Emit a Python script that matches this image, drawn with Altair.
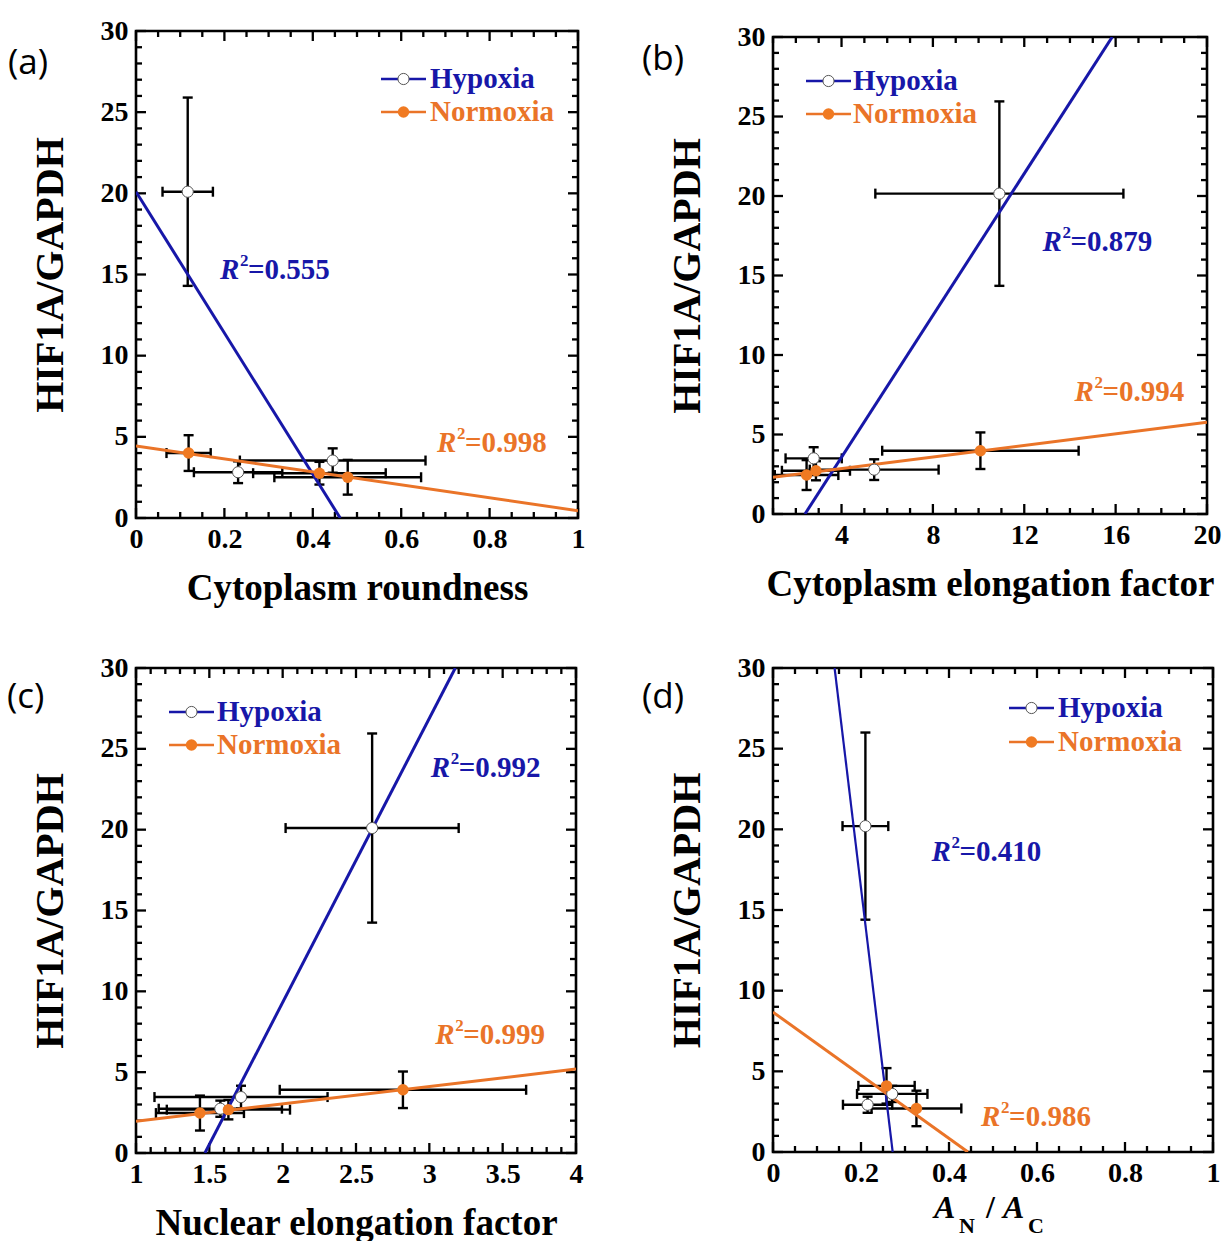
import altair as alt
import pandas as pd

BLUE = "#1717a8"
ORANGE = "#ea7428"
SERIF = "Liberation Serif"
SANS = "Open Sans"

Y_TICKS = [0, 5, 10, 15, 20, 25, 30]
Y_TITLE = "HIF1A/GAPDH"

# ---------------- panel (a): Cytoplasm roundness ----------------
a_hyp_x = [0.117, 0.231, 0.445]
a_hyp_xerr = [0.057, 0.10, 0.21]
a_hyp_y = [20.1, 2.82, 3.54]
a_hyp_yerr = [5.8, 0.67, 0.75]
a_nor_x = [0.119, 0.415, 0.479]
a_nor_xerr = [0.05, 0.15, 0.166]
a_nor_y = [4.0, 2.76, 2.51]
a_nor_yerr = [1.1, 0.7, 1.07]
a_fit_hyp = ([0.0, 0.462], [20.1, 0.0])
a_fit_nor = ([0.0, 1.0], [4.44, 0.45])
a_r2 = [("0.555", 0.19, 15.3, "hyp"), ("0.998", 0.681, 4.6, "nor")]
a_xticks = [0, 0.2, 0.4, 0.6, 0.8, 1]

# ---------------- panel (b): Cytoplasm elongation factor ----------------
b_hyp_x = [10.91, 2.78, 5.43]
b_hyp_xerr = [5.43, 1.23, 2.82]
b_hyp_y = [20.15, 3.5, 2.79]
b_hyp_yerr = [5.8, 0.7, 0.65]
b_nor_x = [10.08, 2.47, 2.88]
b_nor_xerr = [4.3, 1.39, 1.49]
b_nor_y = [3.98, 2.45, 2.72]
b_nor_yerr = [1.15, 0.94, 0.6]
b_fit_hyp = ([2.40, 15.85], [0.0, 30.0])
b_fit_nor = ([1.0, 20.0], [2.31, 5.77])
b_r2 = [("0.879", 12.8, 17.1, "hyp"), ("0.994", 14.2, 7.67, "nor")]
b_xticks = [4, 8, 12, 16, 20]

# ---------------- panel (c): Nuclear elongation factor ----------------
c_hyp_x = [2.61, 1.716, 1.575]
c_hyp_xerr = [0.59, 0.59, 0.42]
c_hyp_y = [20.1, 3.46, 2.74]
c_hyp_yerr = [5.85, 0.7, 0.5]
c_nor_x = [2.82, 1.436, 1.63]
c_nor_xerr = [0.84, 0.3, 0.42]
c_nor_y = [3.91, 2.47, 2.68]
c_nor_yerr = [1.13, 1.08, 0.6]
c_fit_hyp = ([1.47, 3.177], [0.0, 30.0])
c_fit_nor = ([1.0, 4.0], [1.96, 5.19])
c_r2 = [("0.992", 3.01, 23.8, "hyp"), ("0.999", 3.04, 7.3, "nor")]
c_xticks = [1, 1.5, 2, 2.5, 3, 3.5, 4]

# ---------------- panel (d): A_N / A_C ----------------
d_hyp_x = [0.21, 0.271, 0.215]
d_hyp_xerr = [0.052, 0.08, 0.056]
d_hyp_y = [20.2, 3.6, 2.93]
d_hyp_yerr = [5.8, 0.5, 0.5]
d_nor_x = [0.258, 0.326]
d_nor_xerr = [0.064, 0.102]
d_nor_y = [4.1, 2.7]
d_nor_yerr = [1.1, 1.1]
d_fit_hyp = ([0.14, 0.272], [30.0, 0.0])
d_fit_nor = ([0.0, 0.443], [8.67, 0.0])
d_r2 = [("0.410", 0.36, 18.6, "hyp"), ("0.986", 0.473, 2.2, "nor")]
d_xticks = [0, 0.2, 0.4, 0.6, 0.8, 1]

LEG_NAMES = {"hyp": "Hypoxia", "nor": "Normoxia"}
COLORS = {"hyp": BLUE, "nor": ORANGE}


def minors(lo, hi, step, majors):
    out = []
    n = int(round((hi - lo) / step))
    for i in range(n + 1):
        v = round(lo + i * step, 6)
        if all(abs(v - m) > 1e-9 for m in majors):
            out.append(v)
    return out


def err_df(x, xe, y, ye):
    return pd.DataFrame({
        "x": x, "y": y,
        "xlo": [a - b for a, b in zip(x, xe)], "xhi": [a + b for a, b in zip(x, xe)],
        "ylo": [a - b for a, b in zip(y, ye)], "yhi": [a + b for a, b in zip(y, ye)],
    })


def panel(P):
    W, H = P["w"], P["h"]
    xs = alt.Scale(domain=P["xdom"], nice=False, zero=False)
    ys = alt.Scale(domain=[0, 30], nice=False, zero=False)
    xaxis = alt.Axis(values=P["xmaj"], ticks=False, tickSize=0, domain=False, grid=False,
                     labelFlush=False, labelPadding=7, labelFont=SERIF, labelFontSize=28,
                     labelFontWeight="bold", labelColor="black", format="~g",
                     titleFont=SERIF, titleFontSize=37, titleFontWeight="bold",
                     titleColor="black", titlePadding=17, title=P["xtitle"])
    yaxis = alt.Axis(values=Y_TICKS, ticks=False, tickSize=0, domain=False, grid=False,
                     labelFlush=False, labelPadding=8, labelFont=SERIF, labelFontSize=28,
                     labelFontWeight="bold", labelColor="black", format="~g",
                     title=Y_TITLE, titleFont=SERIF, titleFontSize=40,
                     titleFontWeight="bold", titleColor="black", titlePadding=30)

    X = lambda f: alt.X(f"{f}:Q", scale=xs, axis=xaxis)
    Y = lambda f: alt.Y(f"{f}:Q", scale=ys, axis=yaxis)

    layers = []
    # inward ticks on four sides
    xmaj = pd.DataFrame({"v": P["xmaj"]})
    xmin = pd.DataFrame({"v": P["xmin"]})
    ymaj = pd.DataFrame({"v": Y_TICKS})
    ymin = pd.DataFrame({"v": minors(0, 30, 1, Y_TICKS)})
    for df, L in ((xmaj, 10), (xmin, 6)):
        layers.append(alt.Chart(df).mark_rule(color="black", strokeWidth=2.3).encode(
            x=X("v"), y=alt.value(H), y2=alt.value(H - L)))
        layers.append(alt.Chart(df).mark_rule(color="black", strokeWidth=2.3).encode(
            x=X("v"), y=alt.value(0), y2=alt.value(L)))
    for df, L in ((ymaj, 10), (ymin, 6)):
        layers.append(alt.Chart(df).mark_rule(color="black", strokeWidth=2.3).encode(
            y=Y("v"), x=alt.value(0), x2=alt.value(L)))
        layers.append(alt.Chart(df).mark_rule(color="black", strokeWidth=2.3).encode(
            y=Y("v"), x=alt.value(W), x2=alt.value(W - L)))

    # error bars
    for key in ("hyp", "nor"):
        d = err_df(*P[key])
        layers.append(alt.Chart(d).mark_rule(color="black", strokeWidth=2.4).encode(
            x=X("xlo"), x2="xhi", y=Y("y")))
        layers.append(alt.Chart(d).mark_rule(color="black", strokeWidth=2.4).encode(
            x=X("x"), y=Y("ylo"), y2="yhi"))
        caps_v = pd.DataFrame({"cx": list(d["xlo"]) + list(d["xhi"]), "cy": list(d["y"]) * 2})
        caps_h = pd.DataFrame({"cx": list(d["x"]) * 2, "cy": list(d["ylo"]) + list(d["yhi"])})
        layers.append(alt.Chart(caps_v).mark_tick(orient="vertical", size=10, thickness=2.4,
                                                  color="black", opacity=1).encode(
            x=X("cx"), y=Y("cy")))
        layers.append(alt.Chart(caps_h).mark_tick(orient="horizontal", size=10, thickness=2.4,
                                                  color="black", opacity=1).encode(
            x=X("cx"), y=Y("cy")))

    # fit lines
    for key, sw in (("hyp", P.get("hyp_sw", 3.0)), ("nor", 3.0)):
        fx, fy = P["fit_" + key]
        d = pd.DataFrame({"x": fx, "y": fy})
        layers.append(alt.Chart(d).mark_line(color=COLORS[key], strokeWidth=sw, clip=True).encode(
            x=X("x"), y=Y("y")))

    # data points
    hd = err_df(*P["hyp"])
    nd = err_df(*P["nor"])
    layers.append(alt.Chart(hd).mark_circle(size=125, color="white", stroke="#555555",
                                            strokeWidth=1, opacity=1).encode(x=X("x"), y=Y("y")))
    layers.append(alt.Chart(nd).mark_circle(size=130, color="#f07a22", opacity=1).encode(
        x=X("x"), y=Y("y")))

    # R^2 annotations
    for val, rx, ry, key in P["r2"]:
        d = pd.DataFrame({"x": [rx], "y": [ry]})
        col = COLORS[key]
        layers.append(alt.Chart(d).mark_text(text="R", font=SERIF, fontSize=29, fontWeight="bold",
                                             fontStyle="italic", color=col, align="left",
                                             baseline="middle").encode(x=X("x"), y=Y("y")))
        layers.append(alt.Chart(d).mark_text(text="2", font=SERIF, fontSize=17, fontWeight="bold",
                                             color=col, align="left", baseline="middle",
                                             dx=20, dy=-9).encode(x=X("x"), y=Y("y")))
        layers.append(alt.Chart(d).mark_text(text="=" + val, font=SERIF, fontSize=29,
                                             fontWeight="bold", color=col, align="left",
                                             baseline="middle", dx=28).encode(x=X("x"), y=Y("y")))

    # legend (layout element, pixel positions inside the panel)
    one = pd.DataFrame({"k": [0]})
    lx0, lx1, lt = P["leg_x"]
    for key, ly in zip(("hyp", "nor"), P["leg_y"]):
        col = COLORS[key]
        layers.append(alt.Chart(one).mark_rule(color=col, strokeWidth=2.6).encode(
            x=alt.value(lx0), x2=alt.value(lx1), y=alt.value(ly)))
        if key == "hyp":
            layers.append(alt.Chart(one).mark_circle(size=125, color="white", stroke="#555555",
                                                     strokeWidth=1, opacity=1).encode(
                x=alt.value((lx0 + lx1) / 2), y=alt.value(ly)))
        else:
            layers.append(alt.Chart(one).mark_circle(size=130, color="#f07a22", opacity=1).encode(
                x=alt.value((lx0 + lx1) / 2), y=alt.value(ly)))
        layers.append(alt.Chart(one).mark_text(text=LEG_NAMES[key], font=SERIF, fontSize=29,
                                               fontWeight="bold", color=col, align="left",
                                               baseline="middle").encode(
            x=alt.value(lt), y=alt.value(ly)))

    # panel letter
    lab_x, lab_y = P["lab_pos"]
    layers.append(alt.Chart(one).mark_text(text=P["label"], font=SANS, fontSize=35,
                                           color="black", align="left",
                                           baseline="middle").encode(
        x=alt.value(lab_x), y=alt.value(lab_y)))

    # extra top room (invisible) so that the frame sits lower in its column
    if P.get("top_room"):
        layers.append(alt.Chart(one).mark_text(text=".", fontSize=8, opacity=0,
                                               baseline="top", align="left").encode(
            x=alt.value(20), y=alt.value(-P["top_room"])))

    # special x title made of pieces (A_N / A_C)
    for txt, px, py, fs, st in P.get("title_parts", []):
        layers.append(alt.Chart(one).mark_text(text=txt, font=SERIF, fontSize=fs,
                                               fontWeight="bold", fontStyle=st, color="black",
                                               align="left", baseline="alphabetic").encode(
            x=alt.value(px), y=alt.value(H + py)))

    return alt.layer(*layers).properties(width=W, height=H)


def spacer():
    one = pd.DataFrame({"k": [0]})
    return alt.Chart(one).mark_point(opacity=0).encode(
        x=alt.value(0), y=alt.value(0)).properties(
        width=1, height=1, view=alt.ViewBackground(strokeOpacity=0))


PA = dict(w=442, h=487, xdom=[0, 1], xmaj=a_xticks, xmin=minors(0, 1, 0.05, a_xticks),
          xtitle="Cytoplasm roundness",
          hyp=(a_hyp_x, a_hyp_xerr, a_hyp_y, a_hyp_yerr),
          nor=(a_nor_x, a_nor_xerr, a_nor_y, a_nor_yerr),
          fit_hyp=a_fit_hyp, fit_nor=a_fit_nor, r2=a_r2,
          leg_x=(245, 290, 294), leg_y=(48, 81), label="(a)", lab_pos=(-128, 32))
PB = dict(w=434, h=477, xdom=[1, 20], xmaj=b_xticks, xmin=minors(1, 20, 1, b_xticks),
          xtitle="Cytoplasm elongation factor",
          hyp=(b_hyp_x, b_hyp_xerr, b_hyp_y, b_hyp_yerr),
          nor=(b_nor_x, b_nor_xerr, b_nor_y, b_nor_yerr),
          fit_hyp=b_fit_hyp, fit_nor=b_fit_nor, r2=b_r2,
          leg_x=(33, 78, 80), leg_y=(44, 77), label="(b)", lab_pos=(-131, 22),
          top_room=20)
PC = dict(w=440, h=485, xdom=[1, 4], xmaj=c_xticks, xmin=minors(1, 4, 0.1, c_xticks),
          xtitle="Nuclear elongation factor",
          hyp=(c_hyp_x, c_hyp_xerr, c_hyp_y, c_hyp_yerr),
          nor=(c_nor_x, c_nor_xerr, c_nor_y, c_nor_yerr),
          fit_hyp=c_fit_hyp, fit_nor=c_fit_nor, r2=c_r2,
          leg_x=(33, 78, 81), leg_y=(44, 77), label="(c)", lab_pos=(-129, 29))
PD = dict(w=440, h=484, xdom=[0, 1], xmaj=d_xticks, xmin=minors(0, 1, 0.05, d_xticks),
          xtitle="",
          hyp=(d_hyp_x, d_hyp_xerr, d_hyp_y, d_hyp_yerr),
          nor=(d_nor_x, d_nor_xerr, d_nor_y, d_nor_yerr),
          fit_hyp=d_fit_hyp, fit_nor=d_fit_nor, r2=d_r2, hyp_sw=2.2,
          leg_x=(236, 281, 285), leg_y=(40, 74), label="(d)", lab_pos=(-131, 29),
          title_parts=[("A", 161, 66, 32, "italic"),
                       ("N", 186, 81, 22, "normal"),
                       ("/", 213, 66, 32, "normal"),
                       ("A", 230, 66, 32, "italic"),
                       ("C", 255, 81, 22, "normal")])

col1 = alt.vconcat(spacer(), alt.vconcat(panel(PA), panel(PC), spacing=44), spacing=0)
col2 = alt.vconcat(spacer(), alt.vconcat(panel(PB), panel(PD), spacing=48), spacing=0)
chart = alt.hconcat(col1, col2, spacing=53).properties(
    padding={"left": 5, "top": 9, "right": 0, "bottom": 0}
).configure_view(stroke="black", strokeWidth=2.6)

chart.save("out.html", embed_options={"renderer": "svg", "actions": False})
